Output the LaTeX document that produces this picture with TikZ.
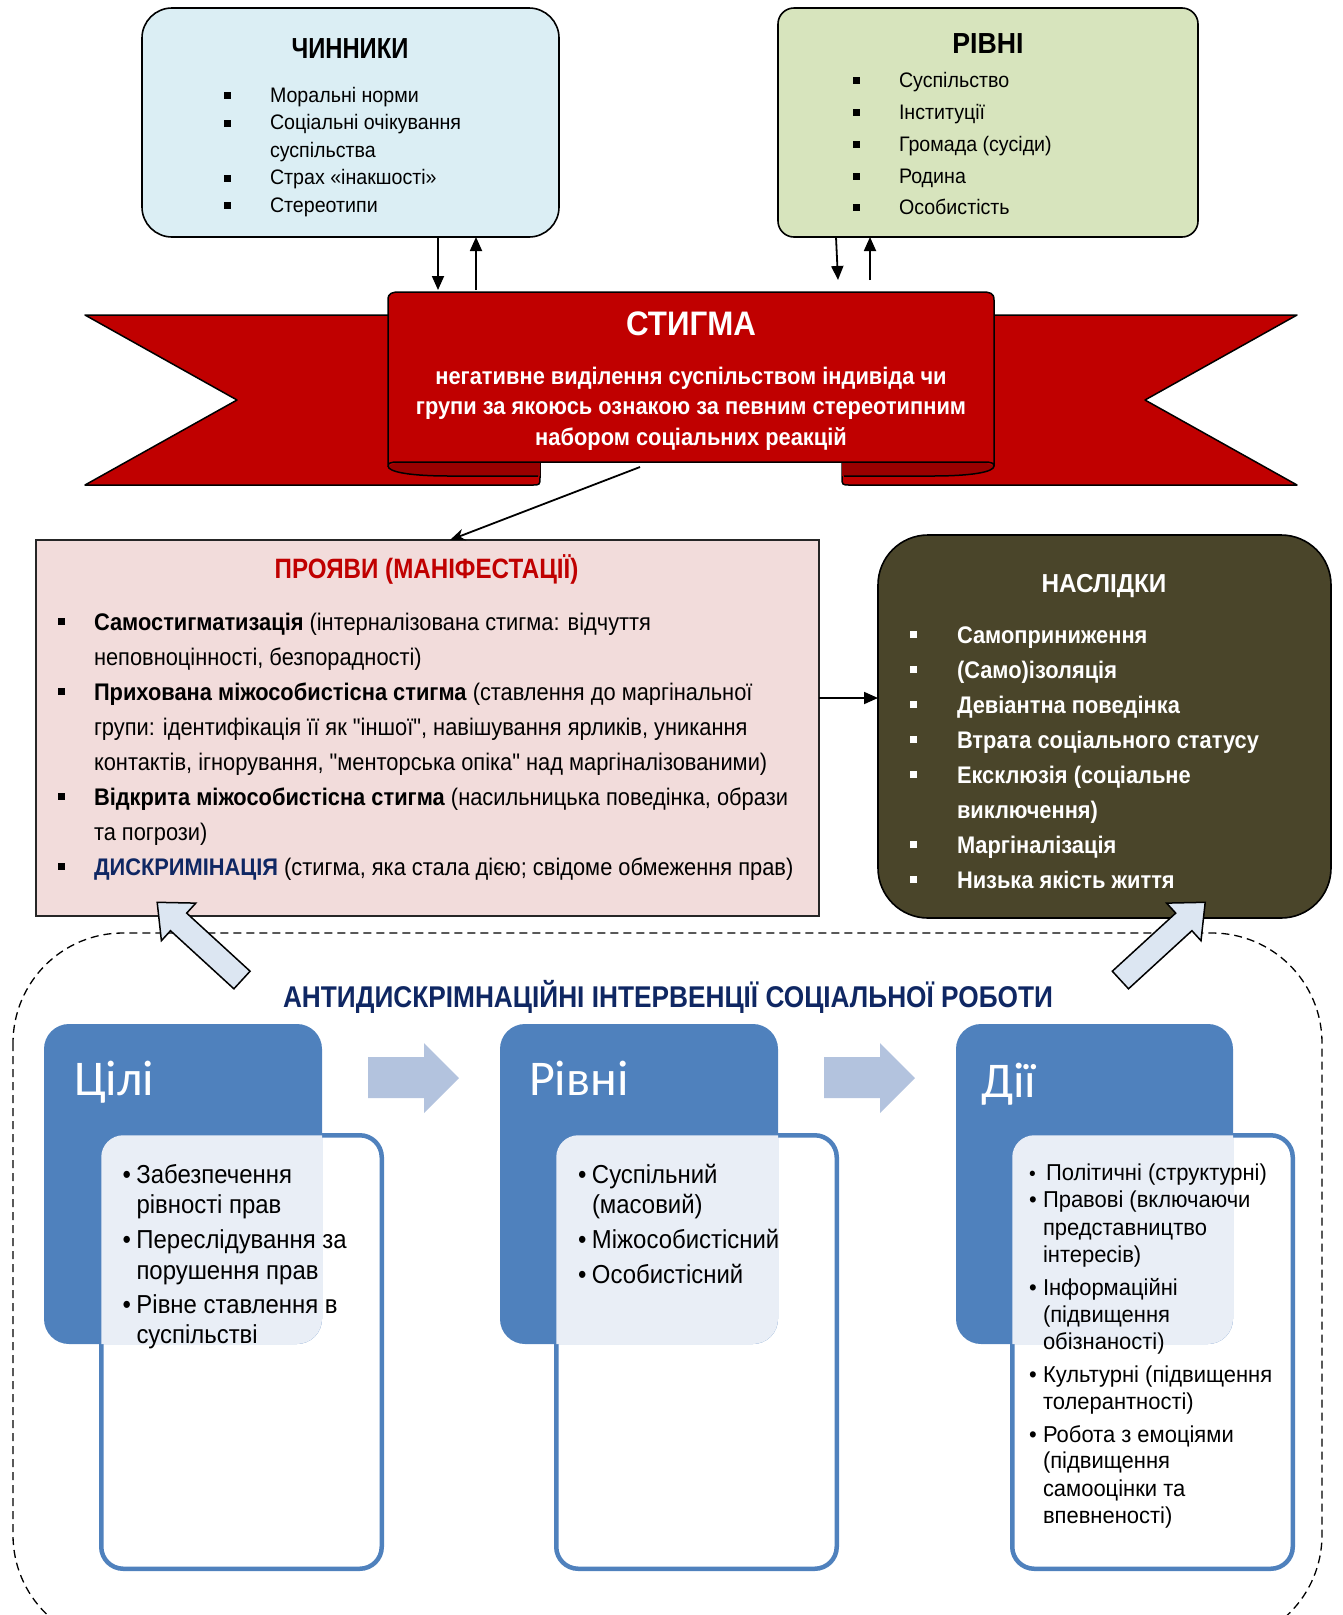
\documentclass[tikz,border=0pt]{standalone}
\usepackage{fontspec}
\setmainfont{Liberation Sans}
\newfontfamily\narA[FakeStretch=0.82]{Liberation Sans}
\newfontfamily\narB[FakeStretch=0.875]{Liberation Sans}
\newfontfamily\narC[FakeStretch=0.863]{Liberation Sans}
\newfontfamily\narD[FakeStretch=0.91]{Liberation Sans}
\newfontfamily\narE[FakeStretch=0.92]{Liberation Sans}
\newfontfamily\narF[FakeStretch=0.935]{Liberation Sans}
\newfontfamily\narG[FakeStretch=0.955]{Liberation Sans}
\newfontfamily\calf{Carlito}
\usetikzlibrary{arrows.meta}
\definecolor{chinbg}{HTML}{DBEEF4}
\definecolor{rivbg}{HTML}{D7E4BD}
\definecolor{ribred}{HTML}{C00000}
\definecolor{ribdark}{HTML}{990000}
\definecolor{prbg}{HTML}{F2DCDB}
\definecolor{naslbg}{HTML}{4A452A}
\definecolor{navyc}{HTML}{0F2763}
\definecolor{sblue}{HTML}{4F81BD}
\definecolor{slight}{HTML}{E9EEF6}
\definecolor{arrblue}{HTML}{B3C3DE}
\definecolor{bigarr}{HTML}{DCE6F2}
\newcommand{\fsz}[1]{\fontsize{#1}{#1}\selectfont}
\newcommand{\sqbul}[2]{\makebox[#1][l]{\raisebox{#2}{\rule{7pt}{7pt}}}}
\newcommand{\dotbul}[1]{\makebox[#1][l]{•}}
\begin{document}
\begin{tikzpicture}[x=1pt,y=-1pt,
  every node/.style={inner sep=0pt,outer sep=0pt},
  arr/.style={-{Triangle[length=14pt,width=12pt]}, line width=1.8pt},
  lst/.style={anchor=base west},
  hdr/.style={anchor=base},
  ribbon/.style={fill=ribred, draw=black, line width=1.5pt, line join=round},
  fold/.style={fill=ribdark},
  bigarrow/.style={fill=bigarr, draw=black, line width=1.5pt, line join=miter},
  blockarrow/.style={fill=arrblue},
  bluebox/.style={fill=sblue, rounded corners=25pt, minimum width=278pt, minimum height=320pt, anchor=north west},
  whitebox/.style={fill=white, draw=sblue, line width=4.5pt, rounded corners=22pt, minimum width=280.5pt, minimum height=433.5pt, anchor=north west},
  boxtitle/.style={anchor=base west, font=\calf\fsz{50}, text=white},
  itemA/.style={anchor=base west, font=\narE\fsz{26}},
  itemB/.style={anchor=base west, font=\narG\fsz{23}},
]
\useasboundingbox (0,0) rectangle (1343,1615);
\clip (0,0) rectangle (1343,1615);

% ---------- top boxes ----------
\node[draw=black, line width=1.6pt, fill=chinbg, rounded corners=30pt, minimum width=417pt, minimum height=229pt, anchor=north west] (chin) at (142,8) {};
\node[hdr, font=\narA\bfseries\fsz{29}] (chinT) at (350,58) {ЧИННИКИ};
\begin{scope}[every node/.append style={lst, font=\narF\fsz{21}}]
\node (c1) at (223.5,102) {\sqbul{46.5pt}{3pt}Моральні норми};
\node (c2) at (223.5,129.5) {\sqbul{46.5pt}{3pt}Соціальні очікування};
\node (c2b) at (270,157) {суспільства};
\node (c3) at (223.5,184.5) {\sqbul{46.5pt}{3pt}Страх «інакшості»};
\node (c4) at (223.5,212) {\sqbul{46.5pt}{3pt}Стереотипи};
\end{scope}

\node[draw=black, line width=1.6pt, fill=rivbg, rounded corners=16pt, minimum width=420pt, minimum height=229pt, anchor=north west] (riv) at (778,8) {};
\node[hdr, font=\narE\bfseries\fsz{29}] (rivT) at (988,53) {РІВНІ};
\begin{scope}[every node/.append style={lst, font=\narF\fsz{21}}]
\node (r1) at (852.5,87) {\sqbul{46.5pt}{3pt}Суспільство};
\node (r2) at (852.5,119) {\sqbul{46.5pt}{3pt}Інституції};
\node (r3) at (852.5,151) {\sqbul{46.5pt}{3pt}Громада (сусіди)};
\node (r4) at (852.5,183) {\sqbul{46.5pt}{3pt}Родина};
\node (r5) at (852.5,214) {\sqbul{46.5pt}{3pt}Особистість};
\end{scope}

% ---------- ribbon ----------
\draw[ribbon] (85,315) -- (540,315) -- (540,477) .. controls (540,485) .. (532,485) -- (85,485) -- (237,400) -- cycle;
\draw[ribbon] (1297,315) -- (842,315) -- (842,477) .. controls (842,485) .. (850,485) -- (1297,485) -- (1145,400) -- cycle;
\fill[fold] (388,466) .. controls (388,472) and (410,476) .. (450,476) -- (540,476) -- (540,462) -- (398,462) -- cycle;
\draw[line width=1.5pt] (388,466) .. controls (388,472) and (410,476) .. (450,476) -- (538,476);
\fill[fold] (994,466) .. controls (994,472) and (972,476) .. (932,476) -- (842,476) -- (842,462) -- (984,462) -- cycle;
\draw[line width=1.5pt] (994,466) .. controls (994,472) and (972,476) .. (932,476) -- (844,476);
\draw[ribbon] (388,466) -- (388,300) .. controls (388,293) and (392,292) .. (400,292) -- (982,292) .. controls (990,292) and (994,293) .. (994,300) -- (994,466) .. controls (994,463) and (991,462) .. (984,462) -- (398,462) .. controls (391,462) and (388,463) .. (388,466) -- cycle;
\coordinate (ribL1) at (438,290);
\coordinate (ribL2) at (476,290);
\coordinate (ribR1) at (838,280);
\coordinate (ribR2) at (870,280);
\coordinate (ribB) at (640,467);
\node[hdr, font=\narE\bfseries\fsz{34}, text=white] (stT) at (691,335) {СТИГМА};
\begin{scope}[every node/.append style={hdr, font=\narD\bfseries\fsz{24}, text=white}]
\node (st1) at (691,384) {негативне виділення суспільством індивіда чи};
\node (st2) at (691,414) {групи за якоюсь ознакою за певним стереотипним};
\node (st3) at (691,445) {набором соціальних реакцій};
\end{scope}

\draw[arr] (chin.south -| ribL1) -- (ribL1);
\draw[arr] (ribL2) -- (chin.south -| ribL2);
\draw[arr] ([xshift=-2pt]riv.south -| ribR1) -- (ribR1);
\draw[arr] (ribR2) -- (riv.south -| ribR2);

% ---------- manifestations ----------
\node[draw=black!85, line width=1.5pt, fill=prbg, minimum width=783pt, minimum height=376pt, anchor=north west] (pr) at (36,540) {};
\coordinate (prIn) at (450,540);
\draw[-{Stealth[length=15pt,width=12pt]}, line width=1.8pt] (ribB) -- (prIn);
\node[hdr, font=\narC\bfseries\fsz{28}, text=ribred] (prT) at (426.5,578) {ПРОЯВИ (МАНІФЕСТАЦІЇ)};
\begin{scope}[every node/.append style={lst, font=\narD\fsz{24}}]
\node (p1) at (58,630) {\sqbul{36pt}{5pt}\textbf{Самостигматизація} (інтерналізована стигма: відчуття};
\node (p1b) at (94,665) {неповноцінності, безпорадності)};
\node (p2) at (58,700) {\sqbul{36pt}{5pt}\textbf{Прихована міжособистісна стигма} (ставлення до маргінальної};
\node (p2b) at (94,735) {групи: ідентифікація її як "іншої", навішування ярликів, уникання};
\node (p2c) at (94,770) {контактів, ігнорування, "менторська опіка" над маргіналізованими)};
\node (p3) at (58,805) {\sqbul{36pt}{5pt}\textbf{Відкрита міжособистісна стигма} (насильницька поведінка, образи};
\node (p3b) at (94,840) {та погрози)};
\node (p4) at (58,875) {\sqbul{36pt}{5pt}\textcolor{navyc}{\textbf{ДИСКРИМІНАЦІЯ}} (стигма, яка стала дією; свідоме обмеження прав)};
\end{scope}

% ---------- consequences ----------
\node[draw=black, line width=1.6pt, fill=naslbg, rounded corners=50pt, minimum width=453pt, minimum height=383pt, anchor=north west] (nasl) at (878,535) {};
\coordinate (ay) at (0,698);
\draw[arr] (pr.east |- ay) -- (nasl.west |- ay);
\node[hdr, font=\narF\bfseries\fsz{26}, text=white] (naT) at (1104,592) {НАСЛІДКИ};
\begin{scope}[every node/.append style={lst, font=\narD\bfseries\fsz{24}, text=white}]
\node (n1) at (909.5,643) {\sqbul{47.5pt}{5pt}Самоприниження};
\node (n2) at (909.5,678) {\sqbul{47.5pt}{5pt}(Само)ізоляція};
\node (n3) at (909.5,713) {\sqbul{47.5pt}{5pt}Девіантна поведінка};
\node (n4) at (909.5,748) {\sqbul{47.5pt}{5pt}Втрата соціального статусу};
\node (n5) at (909.5,783) {\sqbul{47.5pt}{5pt}Ексклюзія (соціальне};
\node (n5b) at (957,818) {виключення)};
\node (n6) at (909.5,853) {\sqbul{47.5pt}{5pt}Маргіналізація};
\node (n7) at (909.5,888) {\sqbul{47.5pt}{5pt}Низька якість життя};
\end{scope}

% ---------- interventions frame ----------
\draw[rounded corners=110pt, dash pattern=on 8pt off 5pt, line width=1.3pt] (13,933) rectangle (1322,1645);
\draw[bigarrow] (250.1,971.2) -- (186.7,913.1) -- (195.8,903.1) -- (157.2,902.3) -- (161.4,940.7) -- (170.5,930.7) -- (233.9,988.8) -- cycle;
\draw[bigarrow] (1112.3,971.2) -- (1175.7,913.1) -- (1166.6,903.1) -- (1205.2,902.3) -- (1201,940.7) -- (1191.9,930.7) -- (1128.5,988.8) -- cycle;
\node[hdr, font=\narB\bfseries\fsz{30}, text=navyc] (intT) at (668,1007) {АНТИДИСКРІМНАЦІЙНІ ІНТЕРВЕНЦІЇ СОЦІАЛЬНОЇ РОБОТИ};

% box 1
\node[whitebox] (w1) at (101.25,1135.25) {};
\node[bluebox] (b1) at (44,1024) {};
\begin{scope}
\clip[rounded corners=25pt] (44,1024) rectangle (322,1344);
\fill[slight, rounded corners=22pt] (101.25,1135.25) rectangle (381.75,1568.75);
\end{scope}
\node[boxtitle] (b1T) at (74,1095) {Цілі};
\node[itemA] (a1) at (122.5,1183) {\dotbul{14pt}Забезпечення};
\node[itemA] (a1b) at (136.5,1213) {рівності прав};
\node[itemA] (a2) at (122.5,1248) {\dotbul{14pt}Переслідування за};
\node[itemA] (a2b) at (136.5,1279) {порушення прав};
\node[itemA] (a3) at (122.5,1313) {\dotbul{14pt}Рівне ставлення в};
\node[itemA] (a3b) at (136.5,1343) {суспільстві};

% box 2
\node[whitebox] (w2) at (556.25,1135.25) {};
\node[bluebox] (b2) at (500,1024) {};
\begin{scope}
\clip[rounded corners=25pt] (500,1024) rectangle (778,1344);
\fill[slight, rounded corners=22pt] (556.25,1135.25) rectangle (836.75,1568.75);
\end{scope}
\node[boxtitle] (b2T) at (529,1095) {Рівні};
\node[itemA] (e1) at (578,1183) {\dotbul{14pt}Суспільний};
\node[itemA] (e1b) at (592,1213) {(масовий)};
\node[itemA] (e2) at (578,1248) {\dotbul{14pt}Міжособистісний};
\node[itemA] (e3) at (578,1283) {\dotbul{14pt}Особистісний};

% box 3
\node[whitebox] (w3) at (1012.25,1135.25) {};
\node[bluebox, minimum width=277pt] (b3) at (956,1024) {};
\begin{scope}
\clip[rounded corners=25pt] (956,1024) rectangle (1233,1344);
\fill[slight, rounded corners=22pt] (1012.25,1135.25) rectangle (1292.75,1568.75);
\end{scope}
\node[boxtitle] (b3T) at (981,1097) {Дії};
\node[itemB] (d1) at (1029,1180) {\makebox[17pt][l]{\fsz{20}•}Політичні (структурні)};
\node[itemB] (d2) at (1029,1207) {\dotbul{14pt}Правові (включаючи};
\node[itemB] (d2b) at (1043,1235) {представництво};
\node[itemB] (d2c) at (1043,1262) {інтересів)};
\node[itemB] (d3) at (1029,1295) {\dotbul{14pt}Інформаційні};
\node[itemB] (d3b) at (1043,1322) {(підвищення};
\node[itemB] (d3c) at (1043,1349) {обізнаності)};
\node[itemB] (d4) at (1029,1382) {\dotbul{14pt}Культурні (підвищення};
\node[itemB] (d4b) at (1043,1409) {толерантності)};
\node[itemB] (d5) at (1029,1442) {\dotbul{14pt}Робота з емоціями};
\node[itemB] (d5b) at (1043,1468) {(підвищення};
\node[itemB] (d5c) at (1043,1496) {самооцінки та};
\node[itemB] (d5d) at (1043,1523) {впевненості)};

% block arrows
\fill[blockarrow] (368,1057) -- (424,1057) -- (424,1043) -- (459,1078) -- (424,1113) -- (424,1098) -- (368,1098) -- cycle;
\fill[blockarrow] (824,1057) -- (880,1057) -- (880,1043) -- (915,1078) -- (880,1113) -- (880,1098) -- (824,1098) -- cycle;
\end{tikzpicture}
\end{document}
